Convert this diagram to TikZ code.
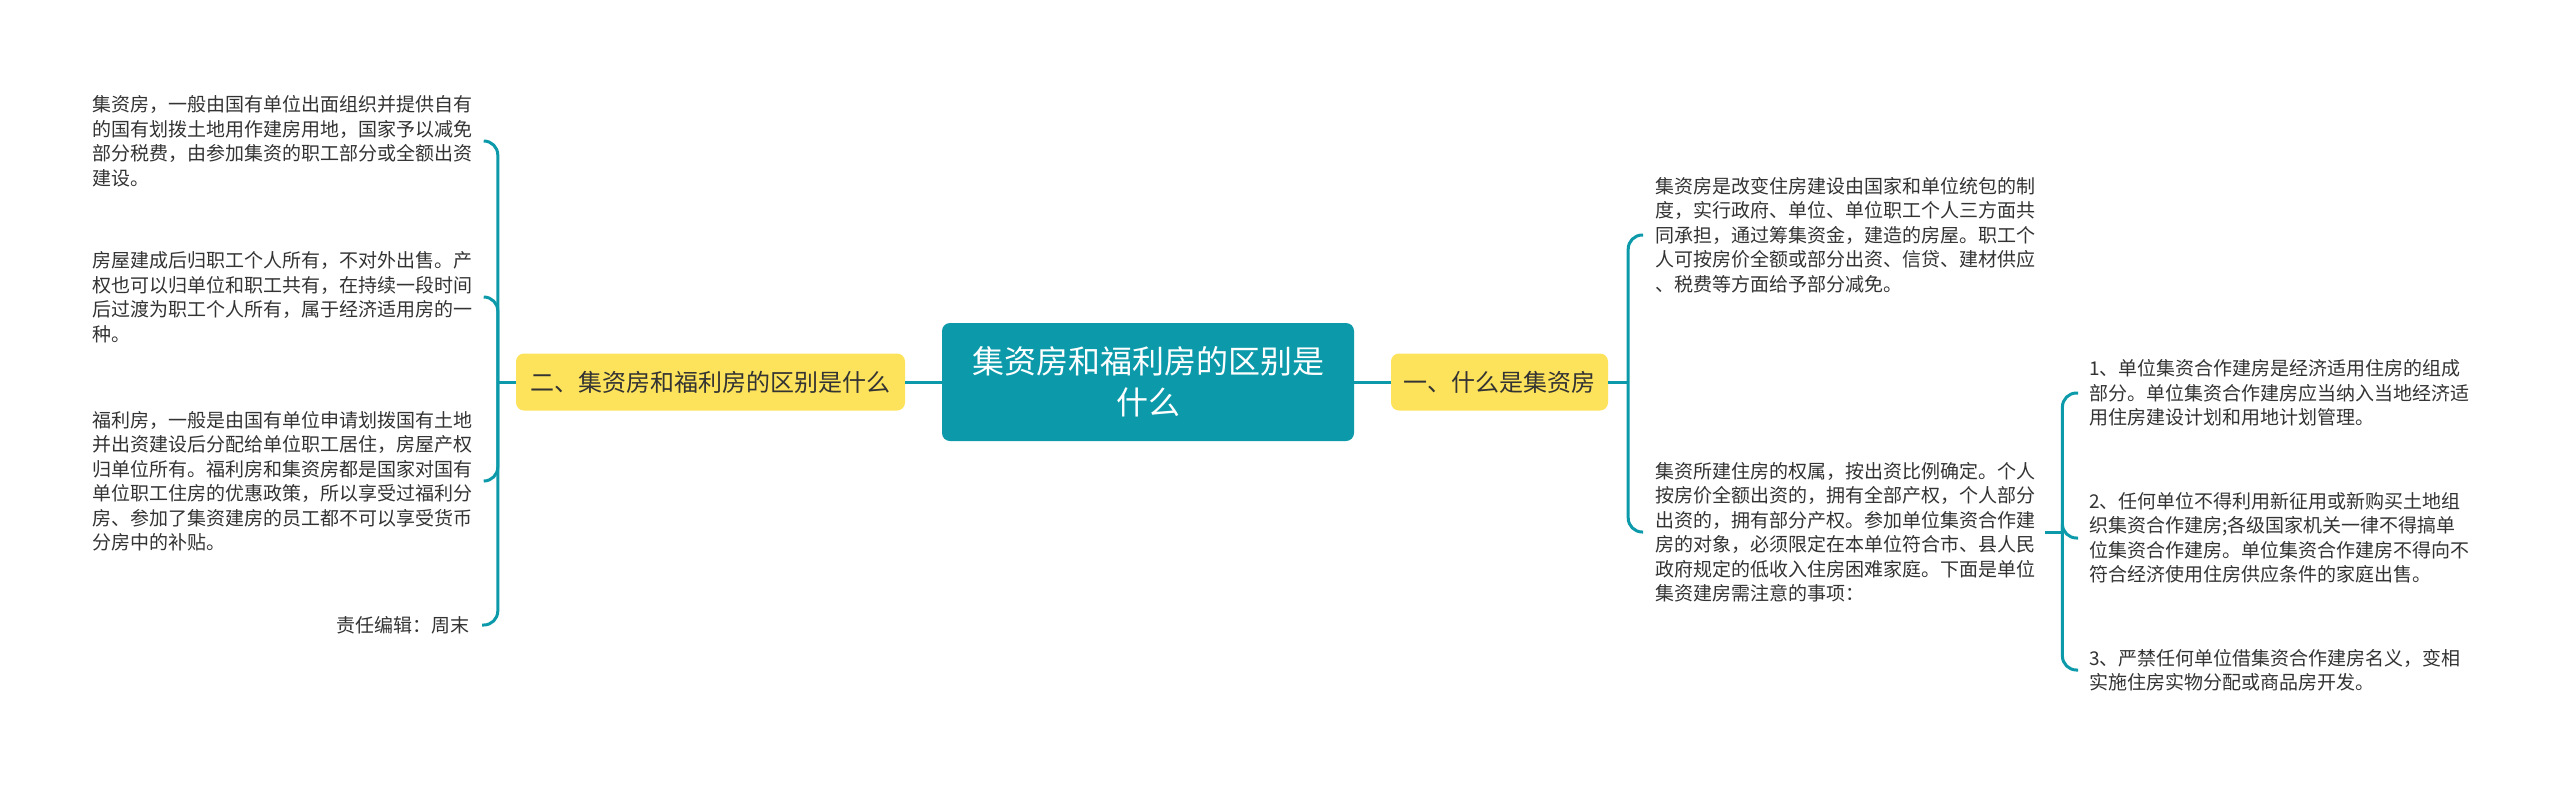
\documentclass[tikz,border=0pt]{standalone}
\usepackage{fontspec}
\setmainfont{Noto Sans CJK SC}
\definecolor{tealc}{HTML}{0C9AAA}
\definecolor{yelc}{HTML}{FDE35B}
\definecolor{inkc}{HTML}{333333}
\tikzset{
  topic/.style={fill=tealc, rounded corners=8pt, text=white, align=center,
    font=\fontsize{32}{41}\selectfont, minimum width=412pt, minimum height=118pt},
  sub/.style={fill=yelc, rounded corners=8pt, text=inkc,
    font=\fontsize{24}{28}\selectfont, minimum height=57pt},
  leaf/.style={inner sep=0pt, text=inkc, align=left,
    font=\fontsize{19}{24.5}\selectfont},
  conn/.style={draw=tealc, line width=3pt, rounded corners=14pt},
}
\begin{document}
\begin{tikzpicture}[x=1pt,y=-1pt]
  \useasboundingbox (0,0) rectangle (2560,785);
  % centre and the two branches
  \node[topic] (root) at (1148,382) {集资房和福利房的区别是\\什么};
  \node[sub, minimum width=389pt] (diff) at (710.5,382) {二、集资房和福利房的区别是什么};
  \node[sub, minimum width=217pt] (what) at (1499.5,382) {一、什么是集资房};
  \draw[conn] (diff) -- (root);
  \draw[conn] (root) -- (what);

  % left side
  \node[leaf, anchor=west] (jz) at (92,141) {集资房，一般由国有单位出面组织并提供自有\\的国有划拨土地用作建房用地，国家予以减免\\部分税费，由参加集资的职工部分或全额出资\\建设。};
  \node[leaf, anchor=west] (gs) at (92,297) {房屋建成后归职工个人所有，不对外出售。产\\权也可以归单位和职工共有，在持续一段时间\\后过渡为职工个人所有，属于经济适用房的一\\种。};
  \node[leaf, anchor=west] (fl) at (92,481) {福利房，一般是由国有单位申请划拨国有土地\\并出资建设后分配给单位职工居住，房屋产权\\归单位所有。福利房和集资房都是国家对国有\\单位职工住房的优惠政策，所以享受过福利分\\房、参加了集资建房的员工都不可以享受货币\\分房中的补贴。};
  \node[leaf, anchor=east] (ed) at (470,625) {责任编辑：周末};
  \coordinate (jl) at ([xshift=-18pt]diff.west);
  \draw[conn] (diff.west) -- (jl);
  \foreach \n in {jz,gs,fl,ed}
    \draw[conn] (jl) |- ([xshift=12pt]\n.east);

  % right side
  \node[leaf, anchor=west] (def) at (1655,235) {集资房是改变住房建设由国家和单位统包的制\\度，实行政府、单位、单位职工个人三方面共\\同承担，通过筹集资金，建造的房屋。职工个\\人可按房价全额或部分出资、信贷、建材供应\\、税费等方面给予部分减免。};
  \node[leaf, anchor=west] (own) at (1655,532) {集资所建住房的权属，按出资比例确定。个人\\按房价全额出资的，拥有全部产权，个人部分\\出资的，拥有部分产权。参加单位集资合作建\\房的对象，必须限定在本单位符合市、县人民\\政府规定的低收入住房困难家庭。下面是单位\\集资建房需注意的事项：};
  \coordinate (jr) at ([xshift=20pt]what.east);
  \draw[conn] (what.east) -- (jr);
  \foreach \n in {def,own}
    \draw[conn] (jr) |- ([xshift=-12pt]\n.west);

  % notes under the second paragraph
  \node[leaf, anchor=west] (n1) at (2089,393) {1、单位集资合作建房是经济适用住房的组成\\部分。单位集资合作建房应当纳入当地经济适\\用住房建设计划和用地计划管理。};
  \node[leaf, anchor=west] (n2) at (2089,538) {2、任何单位不得利用新征用或新购买土地组\\织集资合作建房;各级国家机关一律不得搞单\\位集资合作建房。单位集资合作建房不得向不\\符合经济使用住房供应条件的家庭出售。};
  \node[leaf, anchor=west] (n3) at (2089,670) {3、严禁任何单位借集资合作建房名义，变相\\实施住房实物分配或商品房开发。};
  \coordinate (ji) at ([xshift=27pt]own.east);
  \draw[conn] ([xshift=10pt]own.east) -- (ji);
  \foreach \n in {n1,n2,n3}
    \draw[conn] (ji) |- ([xshift=-11pt]\n.west);
\end{tikzpicture}
\end{document}
